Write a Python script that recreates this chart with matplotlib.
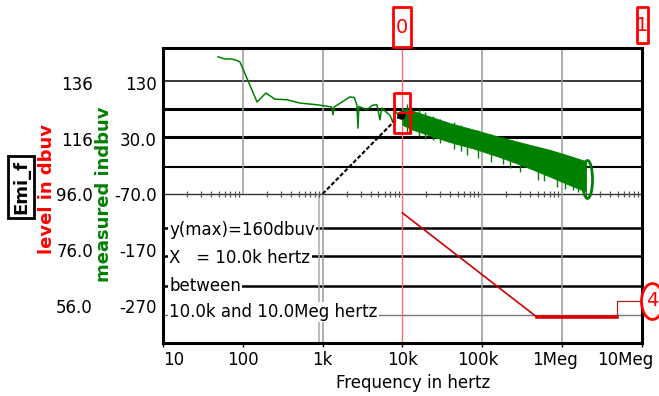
import numpy as np
import matplotlib
matplotlib.use("Agg")
import matplotlib.pyplot as plt
from matplotlib.path import Path
from matplotlib.transforms import Affine2D, ScaledTranslation, blended_transform_factory

# green trace, "measured indbuv", 50 Hz .. 10k
low_f = [49, 60, 73, 82, 92, 151, 195, 253, 358, 521, 851, 1300, 1350, 1400,
         2200, 2500, 2700, 2780, 2850, 3600, 4200, 4800, 5240, 5500, 7000, 7600, 8200, 9340, 10000]
low_m = [177, 173, 173, 171, 168, 96, 112, 101, 100, 94, 91, 87, 73, 87,
         105, 104, 90, 49, 88, 82, 90, 91, 64, 85, 72, 60, 80, 67, 76]

# green band above 10k: upper / lower edge of the noise
band_f = [10e3, 13.6e3, 20e3, 39.5e3, 80e3, 167e3, 350e3, 708e3, 1.2e6, 1.78e6, 2.0e6]
band_top = [84, 80, 72, 58, 46, 33, 21, 10, 0, -8, -10]
band_bot = [55, 46, 38, 24, 12, -3, -20, -38, -52, -62, -64]

# spikes out of the band (low end, high end)
spike_f = [11.5e3, 13e3, 16e3, 19e3, 24.2e3, 30e3, 45e3, 55e3, 64.6e3, 90e3, 130e3,
           180e3, 223e3, 300e3, 500e3, 600e3, 866e3, 1.1e6, 1.37e6, 1.6e6]
spike_lo = [40, 38, 35, 30, 28, 22, 12, 8, 1, -4, -12,
            -16, -22, -30, -44, -46, -57, -60, -62, -66]
spike_hi = [92, 88, 84, 78, 70, 66, 60, 55, 50, 45, 38,
            33, 28, 22, 12, 8, 4, 0, -3, -6]

# black trace from 1k to the cursor
blk_f = [1e3, 8.5e3, 9.6e3]
blk_m = [-69, 66, 72]

# red trace, "level in dbuv"
red_f = [10e3, 486e3]
red_lvl = [89.4, 52.0]
flat_f = [486e3, 4.89e6]
flat_lvl = [52.0, 52.0]
step_f = [4.89e6, 4.89e6, 10e6]
step_lvl = [52.0, 57.8, 57.8]

# horizontal grid lines (measured units)
grid_m = [133.6, 83.4, 33.1, -20.7, -69.1, -130.1, -180.4, -234.2, -286.2]

x_ticks = [10, 100, 1e3, 1e4, 1e5, 1e6, 1e7]
x_labels = ["10", "100", "1k", "10k", "100k", "1Meg", "10Meg"]
m_ticks = [130, 30, -70, -170, -270]
m_labels = ["130", "30.0", "-70.0", "-170", "-270"]
lvl_ticks = [136, 116, 96, 76, 56]
lvl_labels = ["136", "116", "96.0", "76.0", "56.0"]

cursor_f = 10e3
cursor_m = 76

notes = ["y(max)=160dbuv", "X   = 10.0k hertz", "between", "10.0k and 10.0Meg hertz"]
note_m = [-133.7, -184.0, -234.2, -280.8]


def m2l(m):
    return 136 + (np.asarray(m) - 130) / 5.0


def l2m(l):
    return 130 + (np.asarray(l) - 136) * 5.0


def box(w, h):
    return Path([(-w / 2, -h / 2), (w / 2, -h / 2), (w / 2, h / 2), (-w / 2, h / 2), (-w / 2, -h / 2)],
                [Path.MOVETO, Path.LINETO, Path.LINETO, Path.LINETO, Path.CLOSEPOLY])


def oval(w, h):
    return Path.unit_circle().transformed(Affine2D().scale(w, h))


plt.rcParams['font.family'] = ['DejaVu Sans']
fig = plt.figure(figsize=(6.59, 3.96), dpi=100)
ax = fig.add_axes([0.2473, 0.1346, 0.7265, 0.7449])
ax.set_xscale('log')
ax.set_xlim(10, 1e7)
ylo, yhi = -335.9, 193.3
ax.set_ylim(ylo, yhi)

for s in ax.spines.values():
    s.set_linewidth(2.2)
    s.set_zorder(10)

# grid
widths = [1.1, 2.2, 2.2, 1.5, 1.0, 1.8, 1.8, 1.8, 1.0]
colors = ['black'] * 4 + ['#333333'] + ['black'] * 3 + ['#777777']
for g, w, c in zip(grid_m, widths, colors):
    ax.axhline(g, color=c, lw=w, zorder=1)
ax.vlines(100, grid_m[4], yhi, color='#999999', lw=1.1, zorder=1)
ax.vlines([1e3, 1e5, 1e6], ylo, yhi, color='#999999', lw=1.1, zorder=1)
ax.vlines(900, ylo, grid_m[4], color='#aaaaaa', lw=1.1, zorder=1)
ax.axvline(1e4, color='#ff6666', lw=0.9, zorder=1)

# minor tick row
minor = np.outer(10.0 ** np.arange(1, 7), np.arange(2, 10)).ravel()
ax.plot(minor, np.full(minor.size, grid_m[4]), ls='none', marker='|', ms=4.5,
        mew=0.9, color='#555555', zorder=2)

# green trace
ax.plot(low_f, low_m, color='#008000', lw=1.1, zorder=3)
ax.fill_between(band_f, band_bot, band_top, color='#008000', lw=0.6, zorder=3)
ax.vlines(spike_f, spike_lo, spike_hi, color='#008000', lw=1.0, zorder=3)
ax.plot([2.06e6], [-42], ls='none', marker=oval(10, 38), ms=38 * 0.72,
        mfc='none', mec='#008000', mew=2, zorder=4)

# black trace
ax.plot(blk_f, blk_m, color='black', lw=1.5, ls=(0, (2, 1)), zorder=4)
ax.plot(blk_f[-1], blk_m[-1], 'o', color='black', ms=5, zorder=4)

# red trace
ax.plot(red_f, l2m(red_lvl), color='#cc0000', lw=1.2, zorder=4)
ax.plot(flat_f, l2m(flat_lvl), color='#dd0000', lw=2.6, zorder=4)
ax.plot(step_f, l2m(step_lvl), color='#aa2222', lw=0.9, zorder=4)
ax.plot([step_f[-1], 1.34e7], l2m([step_lvl[-1]] * 2), color='#aa2222', lw=0.9,
        zorder=4, clip_on=False)
ax.plot([1.34e7], l2m([57.8]), ls='none', marker=oval(22, 36), ms=36 * 0.72,
        mfc='white', mec='red', mew=2, clip_on=False, zorder=11)
ax.text(1.34e7, l2m(57.8), '4', color='red', fontsize=14, ha='center', va='center',
        clip_on=False, zorder=12)

# cursor on the trace
ax.plot([cursor_f], [cursor_m], ls='none', marker=box(17, 40), ms=40 * 0.72,
        mfc='none', mec='red', mew=2, zorder=6)
ax.plot([cursor_f * 1.12], [cursor_m], ls='none', marker='_', ms=12, mew=1.5,
        color='red', zorder=6)

# cursor markers above the plot
bt = blended_transform_factory(ax.transData, ax.transAxes)
for xf, yy, lab, w, h in [(1e4, 1.070, '0', 19, 40), (1e7, 1.077, '1', 11, 36)]:
    ax.plot([xf], [yy], transform=bt, ls='none', marker=box(w, h), ms=h * 0.72,
            mfc='white', mec='red', mew=2, clip_on=False, zorder=11)
    ax.text(xf, yy, lab, transform=bt, color='red', fontsize=14, ha='center',
            va='center', zorder=12)

# notes
for t, m in zip(notes, note_m):
    ax.text(12, m, t, fontsize=12, va='center', ha='left', zorder=5,
            bbox=dict(facecolor='white', edgecolor='none', pad=1))

# x axis
ax.set_xticks(x_ticks)
ax.set_xticklabels(x_labels, fontsize=12)
ax.xaxis.set_minor_locator(matplotlib.ticker.NullLocator())
ax.tick_params(axis='x', length=3, width=1, pad=3)
shifts = [0, 0, 0, 0, -4, -7, -16]
for lab, sh in zip(ax.get_xticklabels(), shifts):
    lab.set_transform(lab.get_transform() + ScaledTranslation(sh / 100, 0, fig.dpi_scale_trans))
ax.get_xticklabels()[0].set_ha('left')
ax.set_xlabel('Frequency in hertz', fontsize=12)
ax.xaxis.set_label_coords(0.523, -0.137)
ax.xaxis.label.set_va('center')

# y axes
ax.set_yticks(m_ticks)
ax.set_yticklabels(m_labels, fontsize=12)
ax.tick_params(axis='y', length=0, pad=4.3)
sec = ax.secondary_yaxis(-0.1337, functions=(m2l, l2m))
sec.set_yticks(lvl_ticks)
sec.set_yticklabels(lvl_labels, fontsize=12)
sec.tick_params(length=0, pad=4.3)
sec.spines['left'].set_visible(False)

fig.text(104 / 659, 1 - 194 / 396, 'measured indbuv', color='#008000', fontsize=13,
         fontweight='bold', rotation=90, ha='center', va='center')
fig.text(47 / 659, 1 - 189 / 396, 'level in dbuv', color='red', fontsize=13,
         fontweight='bold', rotation=90, ha='center', va='center')
fig.text(21 / 659, 1 - 187 / 396, 'Emi_f', color='black', fontsize=13,
         fontweight='bold', rotation=90, ha='center', va='center',
         bbox=dict(facecolor='white', edgecolor='black', lw=2, pad=3))

fig.savefig('out.png', dpi=100)
